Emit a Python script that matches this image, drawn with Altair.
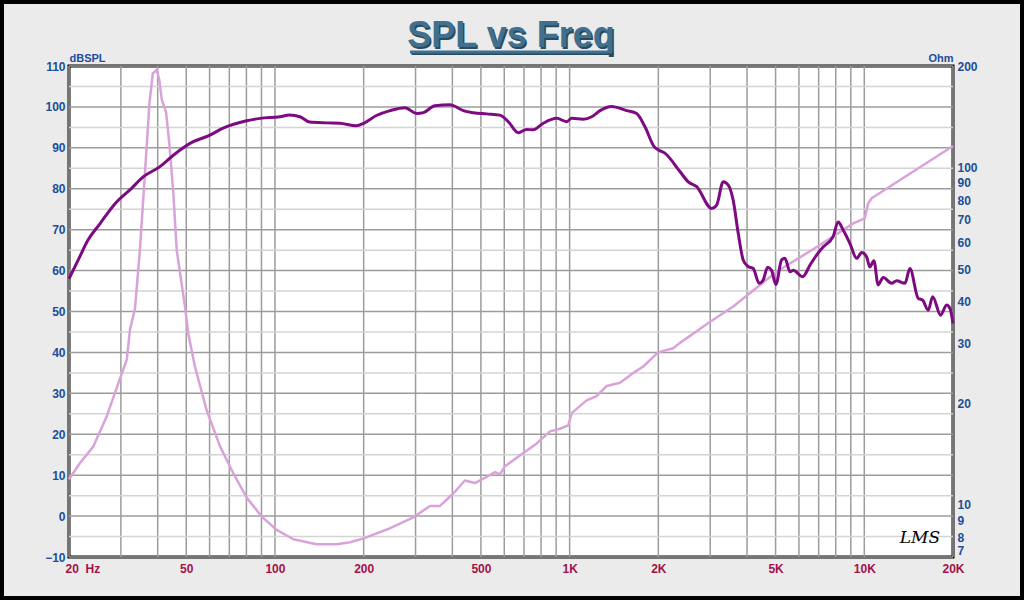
import altair as alt
import pandas as pd

TITLE = "SPL vs Freq"
LOGO = "LMS"

spl_freq = [20, 21.5, 23, 25.5, 28.7, 32.6, 35.7, 40.7, 45.2, 52.8, 59.4, 66.7, 80.2, 89, 104, 112, 121.6,
            131, 150, 166, 189, 200, 221, 246, 276, 303, 319, 349, 393, 403, 436, 471, 523, 580, 619, 670,
            714, 752, 814, 904, 977, 1016, 1112, 1188, 1268, 1388, 1560, 1688, 1800, 1940, 2000, 2104, 2368,
            2526, 2698, 3034, 3154, 3320, 3454, 3590, 3734, 3882, 4036, 4198, 4398, 4538, 4698, 4840, 5012,
            5240, 5380, 5598, 5740, 6180, 6536, 6888, 7260, 7836, 8154, 8480, 8940, 9420, 9796, 10180, 10440,
            10780, 11140, 11590, 12380, 12880, 13740, 14280, 15240, 15760, 16480, 17060, 18160, 19020, 19520, 20000]
spl_db = [58, 62.6, 67, 71.5, 76.4, 80.1, 82.9, 85.4, 88.2, 91.5, 92.9, 94.8, 96.6, 97.2, 97.6, 98.0, 97.6,
          96.3, 96.1, 96.0, 95.4, 96.0, 97.9, 99.1, 99.8, 98.4, 98.6, 100.3, 100.5, 100.3, 99.1, 98.6, 98.3,
          98.0, 96.4, 93.7, 94.5, 94.4, 96.0, 97.2, 96.4, 97.2, 97.0, 97.6, 99.1, 100.1, 99.1, 98.4, 95.2,
          90.2, 89.5, 88.7, 84.2, 81.7, 80.5, 75.2, 76.0, 81.7, 80.9, 77.2, 69.1, 62.6, 61.0, 60.5, 56.9,
          57.7, 60.8, 60.1, 56.6, 62.6, 63.0, 59.7, 60.1, 58.5, 61.3, 63.8, 65.8, 68.3, 71.9, 69.9, 66.6,
          63.0, 64.4, 63.4, 60.9, 62.4, 56.5, 58.3, 56.9, 57.5, 56.9, 60.5, 53.2, 52.8, 50.3, 53.6, 49.1,
          51.6, 50.8, 47.1]

imp_freq = [20, 21.8, 24.2, 26.8, 29.8, 31.4, 32.2, 33.5, 34.8, 36.2, 37.5, 38.5, 39.7, 40.5, 41.3, 42.7,
            43.8, 45.2, 46.4, 49.5, 50.8, 53.5, 58.6, 65.1, 72.2, 80.2, 90.2, 101.4, 115.4, 138.5, 162, 180,
            200, 246, 295, 336, 363, 403, 441, 477, 523, 558, 580, 603, 678, 773, 858, 927, 990, 1016, 1142,
            1234, 1336, 1482, 1644, 1778, 1995, 2246, 2368, 3000, 3590, 5040, 7070, 9170, 10040, 10310,
            10590, 20000]
imp_ohm = [11.9, 13.3, 14.9, 18.2, 23.7, 26.9, 33, 38.2, 56.9, 96.1, 155, 190, 195, 182, 159, 146,
           118, 83.9, 57, 38.7, 32.2, 25.7, 19.1, 14.9, 12.4, 10.5, 9.22, 8.42, 7.9, 7.64, 7.64, 7.74,
           7.95, 8.52, 9.18, 9.92, 9.92, 10.8, 11.8, 11.6, 12.1, 12.5, 12.3, 13.0, 14.0, 15.2, 16.5, 16.8,
           17.2, 18.7, 20.4, 21.0, 22.5, 23.0, 24.6, 25.7, 28.3, 29.1, 30.2, 34.9, 38.7, 49.1, 58.9, 68.3,
           70.7, 78.3, 81.1, 115.8]

grid_freq = [20, 30, 40, 50, 60, 70, 80, 90, 100, 200, 300, 400, 500, 600, 700, 800, 900, 1000,
             2000, 3000, 4000, 5000, 6000, 7000, 8000, 9000, 10000, 20000]
grid_db_major = [-10, 0, 10, 20, 30, 40, 50, 60, 70, 80, 90, 100, 110]
grid_db_minor = [-5, 5, 15, 25, 35, 45, 55, 65, 75, 85, 95, 105]
x_ticks = [20, 50, 100, 200, 500, 1000, 2000, 5000, 10000, 20000]
db_ticks = [-10, 0, 10, 20, 30, 40, 50, 60, 70, 80, 90, 100, 110]
ohm_ticks = [7, 8, 9, 10, 20, 30, 40, 50, 60, 70, 80, 90, 100, 200]

FONT = "Liberation Sans"
BLUE = "#1B4E9B"
RED = "#A3124A"
TITLE_COLOR = "#41708E"
W, H = 884, 491
PAD_L, PAD_T = 69, 66

xscale = alt.Scale(type="log", domain=[20, 20000], nice=False)
yscale = alt.Scale(domain=[-10, 110], nice=False, zero=False)
oscale = alt.Scale(type="log", domain=[7, 200], nice=False)

xaxis = alt.Axis(values=x_ticks, title=None, grid=False, ticks=False, domain=False,
                 labelExpr="datum.value == 20 ? '20\u00a0\u00a0Hz' : (datum.value >= 1000 ? (datum.value / 1000) + 'K' : '' + datum.value)",
                 labelAlign=alt.condition("datum.value == 20", alt.value("left"), alt.value("center")),
                 labelOffset=alt.condition("datum.value == 20", alt.value(-4), alt.value(0)),
                 labelFont=FONT, labelFontSize=12, labelFontWeight="bold", labelColor=RED,
                 labelPadding=6, labelOverlap=False, labelFlush=False, labelBound=False)
yaxis = alt.Axis(values=db_ticks, orient="left", grid=False, ticks=False, domain=False,
                 labelFont=FONT, labelFontSize=12, labelFontWeight="bold", labelColor=BLUE,
                 labelPadding=4, labelOverlap=False, labelFlush=False,
                 title="dBSPL", titleAngle=0, titleX=0, titleY=-3, titleAlign="left",
                 titleBaseline="bottom", titleFont=FONT, titleFontSize=11, titleFontWeight="bold",
                 titleColor=BLUE)
raxis = alt.Axis(values=ohm_ticks, orient="right", grid=False, ticks=False, domain=False,
                 labelFont=FONT, labelFontSize=12, labelFontWeight="bold", labelColor=BLUE,
                 labelPadding=4, labelOverlap=False, labelFlush=False, format="d",
                 labelBaseline=alt.condition("datum.value == 7", alt.value("bottom"), alt.value("middle")),
                 title="Ohm", titleAngle=0, titleX=0, titleY=-3, titleAlign="right",
                 titleBaseline="bottom", titleFont=FONT, titleFontSize=11, titleFontWeight="bold",
                 titleColor=BLUE)

df_spl = pd.DataFrame({"f": spl_freq, "v": spl_db})
df_imp = pd.DataFrame({"f": imp_freq, "o": imp_ohm})
df_vg = pd.DataFrame({"f": grid_freq})
df_hmaj = pd.DataFrame({"v": grid_db_major})
df_hmin = pd.DataFrame({"v": grid_db_minor})
one = pd.DataFrame({"t": [TITLE]})
logo = pd.DataFrame({"t": [LOGO]})

vgrid = alt.Chart(df_vg).mark_rule(color="#9C9C9C", strokeWidth=1.5).encode(
    x=alt.X("f:Q", scale=xscale, axis=xaxis))
hmin = alt.Chart(df_hmin).mark_rule(color="#D4D4D4", strokeWidth=1.5).encode(
    y=alt.Y("v:Q", scale=yscale, axis=yaxis))
hmaj = alt.Chart(df_hmaj).mark_rule(color="#9C9C9C", strokeWidth=1.5).encode(
    y=alt.Y("v:Q", scale=yscale, axis=yaxis))
grid = alt.layer(vgrid, hmin, hmaj)

imp = alt.Chart(df_imp).mark_line(color="#D9A3DA", strokeWidth=2.5, strokeJoin="round").encode(
    x=alt.X("f:Q", scale=xscale, axis=xaxis),
    y=alt.Y("o:Q", scale=oscale, axis=raxis))

spl = alt.Chart(df_spl).mark_line(color="#7E0A82", strokeWidth=3, interpolate="monotone").encode(
    x=alt.X("f:Q", scale=xscale, axis=xaxis),
    y=alt.Y("v:Q", scale=yscale, axis=None))

tx = 511 - PAD_L
shadow = alt.Chart(one).mark_text(font=FONT, fontSize=36, fontWeight="bold", color="#2A4A5E",
                                  align="center", baseline="alphabetic", dx=1.5, dy=1.5).encode(
    text="t:N", x=alt.value(tx), y=alt.value(47 - PAD_T))
title = alt.Chart(one).mark_text(font=FONT, fontSize=36, fontWeight="bold", color=TITLE_COLOR,
                                 align="center", baseline="alphabetic").encode(
    text="t:N", x=alt.value(tx), y=alt.value(47 - PAD_T))
uline_s = alt.Chart(one).mark_rule(color="#2A4A5E", strokeWidth=3).encode(
    x=alt.value(410 - PAD_L + 1.5), x2=alt.value(612 - PAD_L + 1.5), y=alt.value(52 - PAD_T + 1.5))
uline = alt.Chart(one).mark_rule(color=TITLE_COLOR, strokeWidth=3).encode(
    x=alt.value(410 - PAD_L), x2=alt.value(612 - PAD_L), y=alt.value(52 - PAD_T))
border = alt.Chart(one).mark_rect(filled=False, stroke="black", strokeWidth=4).encode(
    x=alt.value(-PAD_L + 2), x2=alt.value(1024 - PAD_L - 2),
    y=alt.value(-PAD_T + 2), y2=alt.value(600 - PAD_T - 2))
logo_t = alt.Chart(logo).mark_text(font="DejaVu Serif", fontSize=17, fontStyle="italic", color="black",
                                   align="center", baseline="middle").encode(
    text="t:N", x=alt.value(920 - PAD_L), y=alt.value(538 - PAD_T))

chart = alt.layer(grid, imp, spl, logo_t, shadow, title, uline_s, uline, border).resolve_scale(
    y="independent"
).properties(
    width=W, height=H,
    padding={"left": PAD_L, "top": PAD_T, "right": 1024 - PAD_L - W, "bottom": 600 - PAD_T - H},
    autosize=alt.AutoSizeParams(type="none"),
    background="#EBEBEB",
).configure_view(stroke="black", strokeWidth=3, fill="white")

chart.save("out.html", embed_options={"renderer": "svg", "actions": False})
